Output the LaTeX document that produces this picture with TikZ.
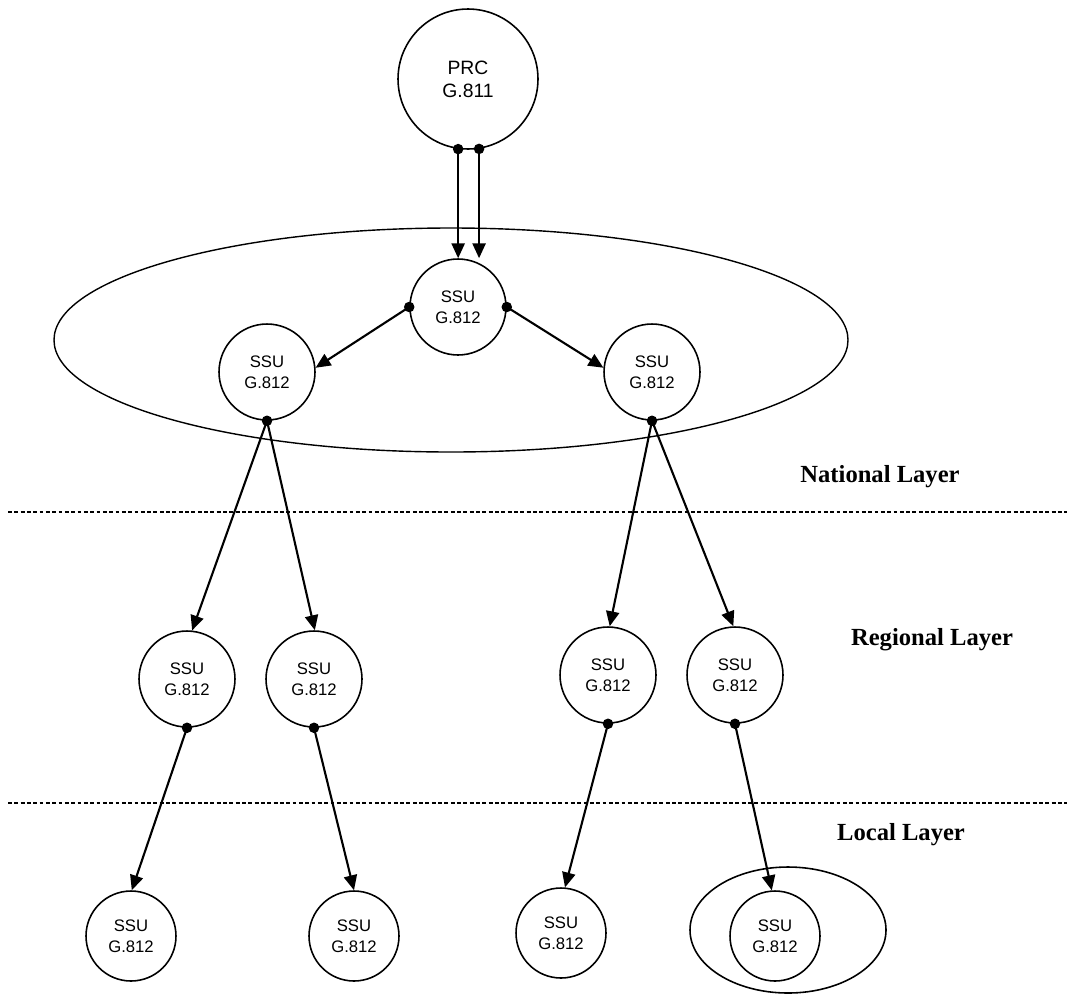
\documentclass[tikz,border=0pt]{standalone}
\usepackage{fontspec}
\setmainfont{Liberation Serif}
\newfontfamily\unitfont{Liberation Sans}
\usetikzlibrary{arrows.meta}
\begin{document}
\begin{tikzpicture}[x=0.02cm,y=-0.02cm,
  unit/.style={circle,draw,line width=0.9pt,inner sep=0pt,minimum size=1.92cm,
    align=center,font=\unitfont\fontsize{9.5}{12}\selectfont},
  prcunit/.style={unit,minimum size=2.8cm,font=\unitfont\fontsize{11}{13}\selectfont},
  localunit/.style={unit,minimum size=1.8cm},
  link/.style={line width=1.2pt,-{Triangle[length=8.5pt,width=7.5pt]}},
  port/.style={fill=black},
  layer/.style={font=\bfseries\fontsize{14}{16}\selectfont},
  divider/.style={line width=0.6pt,dash pattern=on 2.2pt off 1.4pt}]
\useasboundingbox (0,0) rectangle (1067,994);

% national ring
\draw[line width=0.8pt] (451,340) ellipse [x radius=397, y radius=112];
% local ring around the last unit
\draw[line width=0.9pt] (788,930) ellipse [x radius=98, y radius=63];

% layer dividers
\coordinate (d1l) at (8,512);   \coordinate (d1r) at (1067,512);
\coordinate (d2l) at (8,803);   \coordinate (d2r) at (1067,803);
\draw[divider] (d1l) -- (d1r);
\draw[divider] (d2l) -- (d2r);

% layer labels
\node[layer] (natl) at (880,477) {National Layer};
\node[layer] (regl) at (932,640) {Regional Layer};
\node[layer] (locl) at (901,835) {Local Layer};

% clocks
\node[prcunit] (prc) at (468,79) {PRC\\G.811};
\node[unit] (nc) at (458,307) {SSU\\G.812};
\node[unit] (nl) at (267,372) {SSU\\G.812};
\node[unit] (nr) at (652,372) {SSU\\G.812};
\node[unit] (r1) at (187,679) {SSU\\G.812};
\node[unit] (r2) at (314,679) {SSU\\G.812};
\node[unit] (r3) at (608,675) {SSU\\G.812};
\node[unit] (r4) at (735,675) {SSU\\G.812};
\node[localunit] (l1) at (131,936) {SSU\\G.812};
\node[localunit] (l2) at (354,936) {SSU\\G.812};
\node[localunit] (l3) at (561,933) {SSU\\G.812};
\node[localunit] (l4) at (775,936) {SSU\\G.812};

% timing links
\draw[link] (prc.-98.2) -- (prc.-98.2 |- nc.north);
\draw[link] (prc.-81.8) -- (prc.-81.8 |- nc.north);
\draw[link] (nc.west) -- (nl.5);
\draw[link] (nc.east) -- (nr.175);
\draw[link] (nl.south) -- (r1.84);
\draw[link] (nl.south) -- (r2.89);
\draw[link] (nr.south) -- (r3.88);
\draw[link] (nr.south) -- (r4.92);
\draw[link] (r1.south) -- (l1.89);
\draw[link] (r2.south) -- (l2.90);
\draw[link] (r3.south) -- (l3.85);
\draw[link] (r4.south) -- (l4.94);

% output ports
\foreach \p in {prc.-98.2,prc.-81.8,nc.west,nc.east,nl.south,nr.south,
                r1.south,r2.south,r3.south,r4.south}
  \fill[port] (\p) circle[radius=3pt];
\end{tikzpicture}
\end{document}
